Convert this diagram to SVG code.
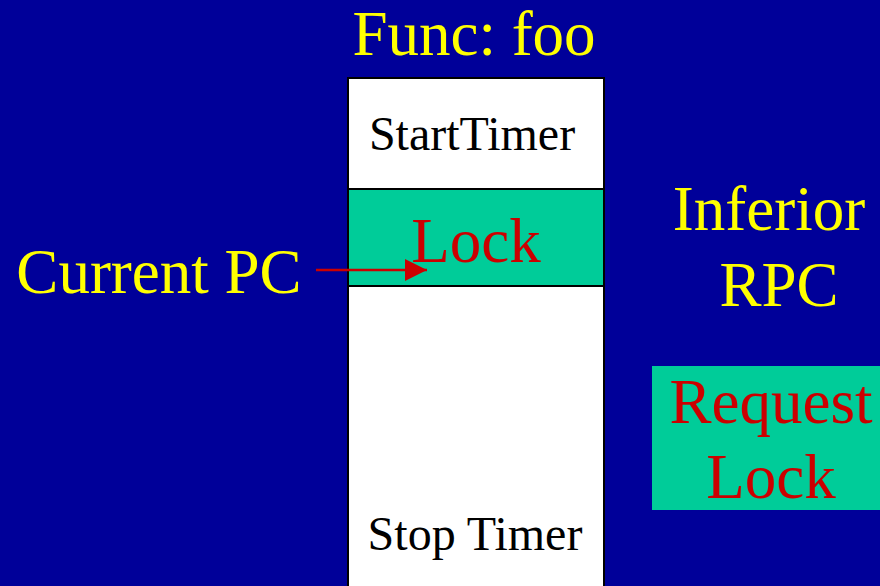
<svg xmlns="http://www.w3.org/2000/svg" width="880" height="586" viewBox="0 0 880 586">
<style>
.big{font-family:"Liberation Serif","Times New Roman",serif;font-size:63px}
.mid{font-family:"Liberation Serif","Times New Roman",serif;font-size:48px;fill:#000}
.y{fill:#FFFF00}
.r{fill:#CC0000}
.cell{stroke:#000;stroke-width:2}
</style>
<defs>
<marker id="ah" viewBox="0 0 22 22" refX="22" refY="11" markerWidth="22" markerHeight="22" markerUnits="userSpaceOnUse" orient="auto">
<path d="M0,0 L22,11 L0,22 Z" fill="#CC0000"/>
</marker>
</defs>
<rect width="880" height="586" fill="#000099"/>
<text class="big y" x="474" y="55" text-anchor="middle">Func: foo</text>
<g id="func">
<g id="starttimer">
<rect class="cell" x="348" y="78" width="256" height="111" fill="#FFFFFF"/>
<text class="mid" x="472" y="150" text-anchor="middle">StartTimer</text>
</g>
<g id="lock">
<rect class="cell" x="348" y="189" width="256" height="97" fill="#00CC99"/>
<text class="big r" x="476" y="262" text-anchor="middle">Lock</text>
</g>
<g id="stoptimer">
<rect class="cell" x="348" y="286" width="256" height="310" fill="#FFFFFF"/>
<text class="mid" x="475" y="550" text-anchor="middle">Stop Timer</text>
</g>
</g>
<g id="currentpc">
<text class="big y" x="159" y="293" text-anchor="middle">Current PC</text>
</g>
<g id="inferior">
<text class="big y" x="769" y="230" text-anchor="middle">Inferior</text>
<text class="big y" x="779" y="306" text-anchor="middle">RPC</text>
</g>
<g id="requestlock">
<rect x="652" y="366" width="240" height="144" fill="#00CC99"/>
<text class="big r" x="771" y="423" text-anchor="middle">Request</text>
<text class="big r" x="771" y="498" text-anchor="middle">Lock</text>
</g>
<g id="connectors">
<line x1="316" y1="270" x2="427" y2="270" stroke="#CC0000" stroke-width="2.5" marker-end="url(#ah)"/>
</g>
</svg>
